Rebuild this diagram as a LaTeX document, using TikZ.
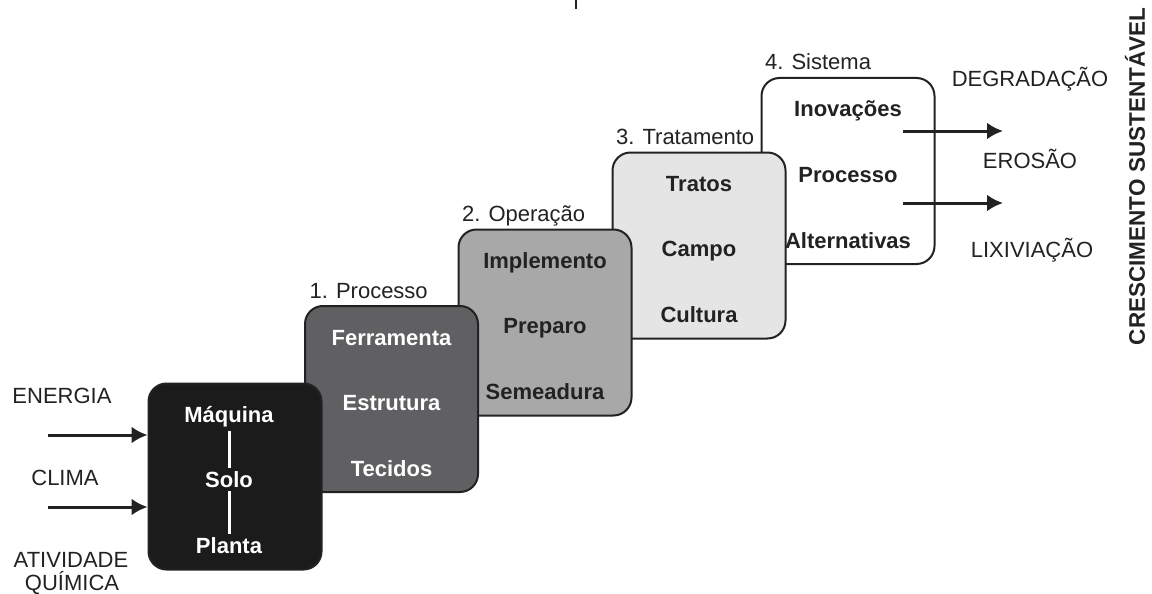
\documentclass[tikz,border=0pt]{standalone}
\usepackage{fontspec}
\setmainfont{Liberation Sans}
\usepackage{tikz}
\usetikzlibrary{arrows.meta,calc,positioning}
\definecolor{Coal}{HTML}{1B1B1B}
\definecolor{Slate}{HTML}{606062}
\definecolor{Ash}{HTML}{A8A8A8}
\definecolor{Mist}{HTML}{E5E5E5}
\definecolor{Ink}{HTML}{222222}
\newcommand{\stagebox}[8][0]{%
  \node[rounded corners=18pt,minimum width=173pt,minimum height=186pt,
        draw=Ink,line width=2pt,fill=#2] (#3) at (#4) {};
  \node[anchor=base,text=#5,font=\fontsize{22}{24}\selectfont\bfseries] (#3a) at ($(#3.center)+(#1,-54)$) {#6};
  \node[anchor=base,text=#5,font=\fontsize{22}{24}\selectfont\bfseries] (#3b) at ($(#3.center)+(#1,11)$) {#7};
  \node[anchor=base,text=#5,font=\fontsize{22}{24}\selectfont\bfseries] (#3c) at ($(#3.center)+(#1,77)$) {#8};}

\begin{document}
\begin{tikzpicture}[x=1pt,y=-1pt,
    plain/.style={anchor=base,text=Ink,font=\fontsize{22}{24}\selectfont},
    flow/.style={-{Latex[length=16pt,width=17pt]},line width=3pt,color=Ink}]
    \useasboundingbox (0,0) rectangle (1152,594);
    \draw[line width=2pt,Ink] (576,0) -- (576,9);
    % stages, last one first so the earlier ones lie on top
    \stagebox{white}{b4}{848,171}{Ink}{Inovações}{Processo}{Alternativas}
    \stagebox{Mist}{b3}{699,245.5}{Ink}{Tratos}{Campo}{Cultura}
    \stagebox{Ash}{b2}{545,322.5}{Ink}{Implemento}{Preparo}{Semeadura}
    \stagebox{Slate}{b1}{391.5,399}{white}{Ferramenta}{Estrutura}{Tecidos}
    \stagebox[-6]{Coal}{b0}{235,476.5}{white}{Máquina}{Solo}{Planta}
    \foreach \a/\b in {b0a/b0b,b0b/b0c}
      \draw[line width=3pt,white] (\a) -- (\b);
    \node[plain,anchor=base west] (t1) at ($(b1.north west)+(2,-7)$) {1. Processo};
    \node[plain,anchor=base west] (t2) at ($(b2.north west)+(1,-7)$) {2. Operação};
    \node[plain,anchor=base west] (t3) at ($(b3.north west)+(1,-7)$) {3. Tratamento};
    \node[plain,anchor=base west] (t4) at ($(b4.north west)+(1,-7)$) {4. Sistema};
    % inputs
    \node[plain] (energia) at (62,403) {ENERGIA};
    \node[plain] (clima) at (65,485) {CLIMA};
    \node[plain] (ativ) at (71,567) {ATIVIDADE};
    \node[plain] (quim) at (72,590) {QUÍMICA};
    \coordinate (in1) at (48,435);
    \coordinate (in2) at (48,507);
    \foreach \c in {in1,in2}
      \draw[flow] (\c) -- (\c -| b0.west);
    % outputs
    \node[plain] (degr) at (1030,87) {DEGRADAÇÃO};
    \node[plain] (eros) at (1030,168) {EROSÃO};
    \node[plain] (lixi) at (1032,257) {LIXIVIAÇÃO};
    \coordinate (out1) at (903,131);
    \coordinate (out2) at (903,203);
    \foreach \c in {out1,out2}
      \draw[flow] (\c) -- ++(100,0);
    \node[rotate=90,text=Ink,font=\fontsize{22.5}{24}\selectfont\bfseries] (goal) at (1135,176.5) {CRESCIMENTO SUSTENTÁVEL};
\end{tikzpicture}
\end{document}
